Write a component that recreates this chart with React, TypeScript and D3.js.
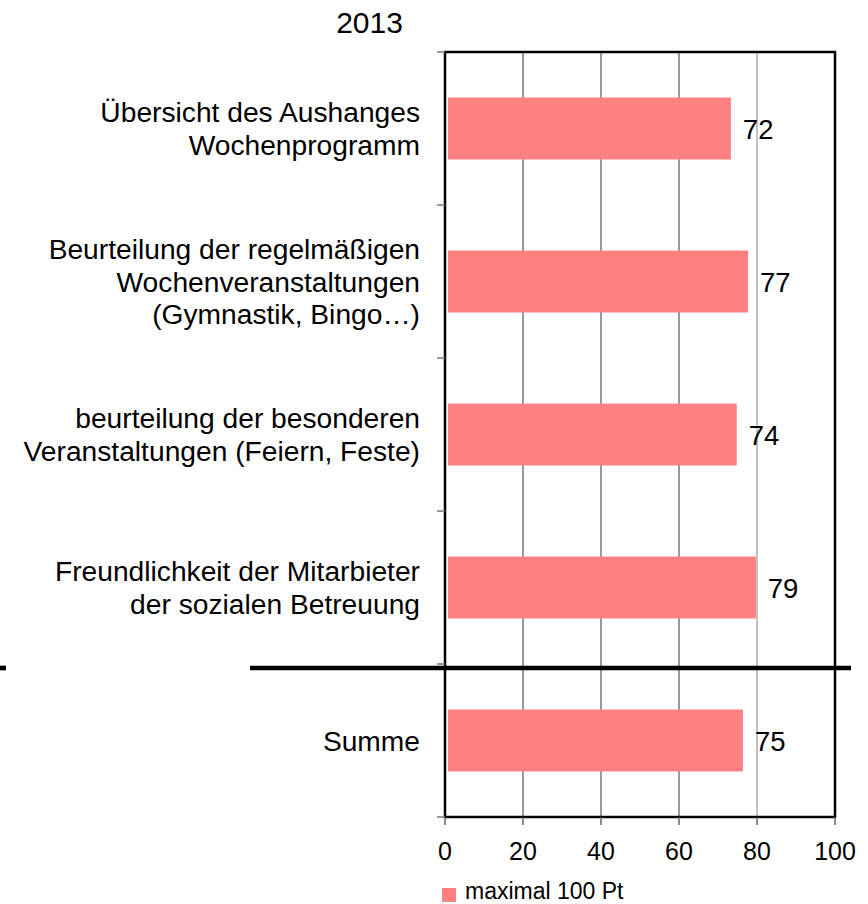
import React from "react";
import * as d3 from "d3";

// category labels, one entry per line
const categories: string[][] = [
	["Übersicht des Aushanges", "Wochenprogramm"],
	["Beurteilung der regelmäßigen", "Wochenveranstaltungen", "(Gymnastik, Bingo…)"],
	["beurteilung der besonderen", "Veranstaltungen (Feiern, Feste)"],
	["Freundlichkeit der Mitarbieter", "der sozialen Betreuung"],
	["Summe"],
];
// bar lengths as drawn
const barValues = [73.3, 77.7, 74.8, 79.7, 76.4];
// printed data labels
const valueLabels = ["72", "77", "74", "79", "75"];
const xTicks = [0, 20, 40, 60, 80, 100];

const title = "2013";
const legendLabel = "maximal 100 Pt";
const barColor = "#ff8080";
const font = "'Liberation Sans', Arial, sans-serif";

const App = () => {
	const width = 868;
	const height = 904;

	const x = d3.scaleLinear().domain([0, 100]).range([445, 835]);
	const y = d3
		.scaleBand<number>()
		.domain(categories.map((_, i) => i))
		.range([52, 817])
		.paddingInner(0.595)
		.paddingOuter(0.2975);

	const step = y.step();
	const bw = y.bandwidth();
	const boundaries = d3.range(categories.length + 1).map((i) => 52 + i * step);
	const sepY = boundaries[4] + 4;

	return (
		<svg
			width={width}
			height={height}
			style={{ position: "absolute", left: 0, top: 0, background: "#fff" }}
			fontFamily={font}>
			{/* title */}
			<text x={369.5} y={33} textAnchor="middle" fontSize={30} fill="#000">
				{title}
			</text>

			{/* grid */}
			{xTicks.slice(1, -1).map((t) => (
				<line
					key={t}
					x1={x(t)}
					x2={x(t)}
					y1={52}
					y2={817}
					stroke={t === 80 ? "#999" : "#555"}
					strokeWidth={1.2}
				/>
			))}

			{/* bars */}
			{barValues.map((v, i) => (
				<rect
					key={i}
					x={x(0) + 3}
					y={y(i)}
					width={x(v) - x(0) - 3}
					height={bw}
					fill={barColor}
				/>
			))}

			{/* value labels */}
			{barValues.map((v, i) => (
				<text
					key={i}
					x={x(v) + 12}
					y={(y(i) as number) + bw / 2 + 10}
					fontSize={27.5}
					fill="#000">
					{valueLabels[i]}
				</text>
			))}

			{/* plot frame */}
			<rect
				x={x(0)}
				y={52}
				width={x(100) - x(0)}
				height={817 - 52}
				fill="none"
				stroke="#000"
				strokeWidth={2.5}
			/>

			{/* y ticks */}
			{boundaries.map((b, i) => (
				<line key={i} x1={437} x2={x(0)} y1={b} y2={b} stroke="#777" strokeWidth={1.5} />
			))}

			{/* x ticks + labels */}
			{xTicks.map((t) => (
				<g key={t}>
					<line x1={x(t)} x2={x(t)} y1={817} y2={825} stroke="#666" strokeWidth={1.5} />
					<text x={x(t)} y={860} textAnchor="middle" fontSize={25} fill="#000">
						{t}
					</text>
				</g>
			))}

			{/* category labels */}
			{categories.map((lines, i) => {
				const cy = (y(i) as number) + bw / 2;
				const lh = 32.5;
				const start = cy - ((lines.length - 1) * lh) / 2;
				return (
					<text key={i} textAnchor="end" fontSize={28.2} fill="#000">
						{lines.map((ln, j) => (
							<tspan key={j} x={420} y={start + j * lh + 10}>
								{ln}
							</tspan>
						))}
					</text>
				);
			})}

			{/* separator line */}
			<line x1={250} x2={851} y1={sepY} y2={sepY} stroke="#000" strokeWidth={4.7} />
			<line x1={0} x2={6} y1={sepY} y2={sepY} stroke="#000" strokeWidth={4.7} />

			{/* legend */}
			<rect x={442} y={888} width={14} height={14} fill={barColor} />
			<text x={465} y={899} fontSize={23} fill="#000">
				{legendLabel}
			</text>
		</svg>
	);
};

export default App;
